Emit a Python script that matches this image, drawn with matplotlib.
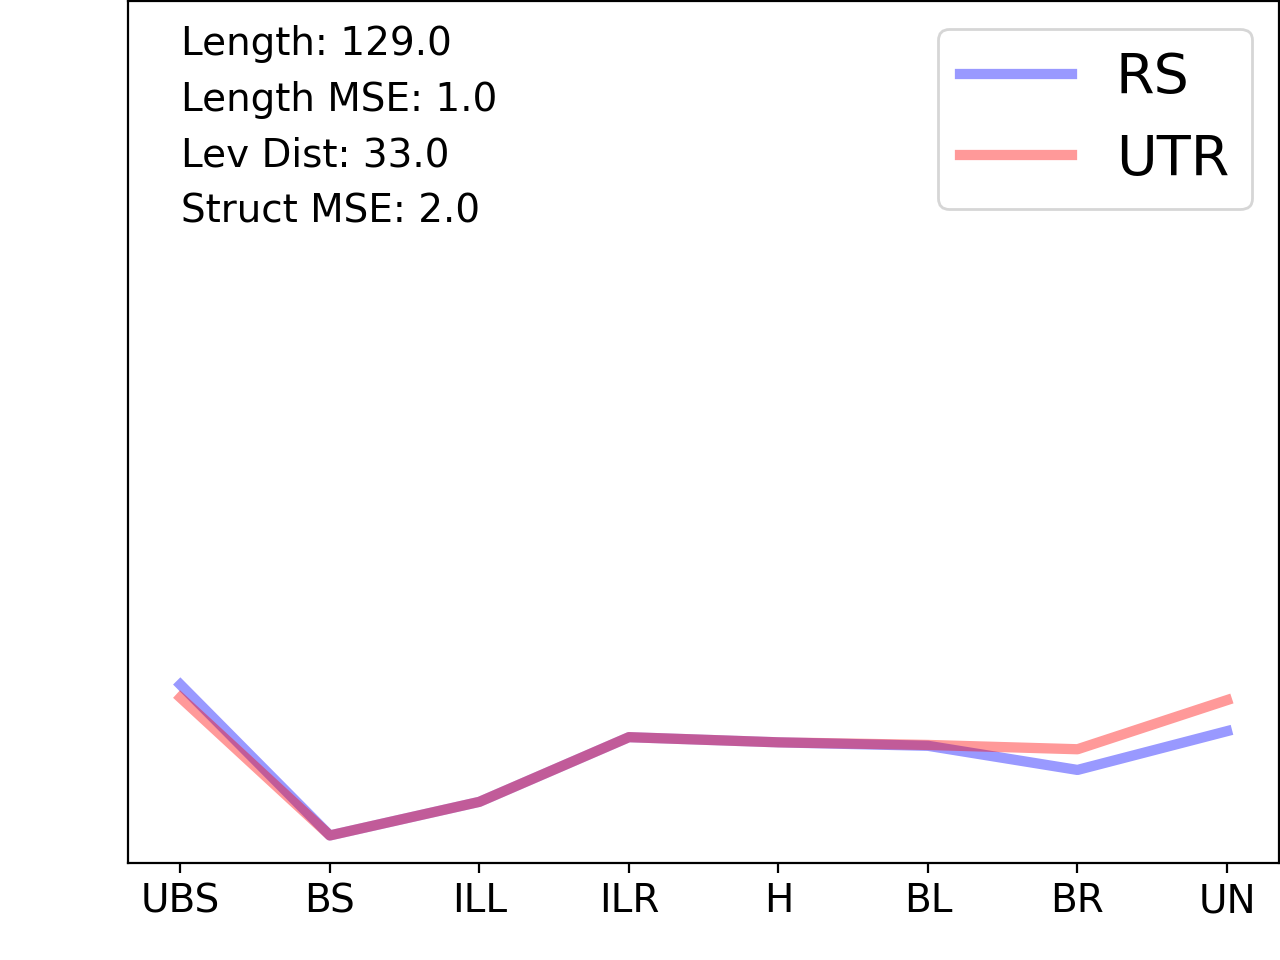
import matplotlib
matplotlib.use('Agg')
import matplotlib.pyplot as plt

labels = ['UBS', 'BS', 'ILL', 'ILR', 'H', 'BL', 'BR', 'UN']
rs_vals = [2.07, 0.32, 0.71, 1.46, 1.40, 1.36, 1.08, 1.53]
utr_vals = [1.92, 0.32, 0.71, 1.46, 1.40, 1.37, 1.32, 1.89]
stats = [('Length', 129.0), ('Length MSE', 1.0), ('Lev Dist', 33.0), ('Struct MSE', 2.0)]

fig = plt.figure(figsize=(6.4, 4.8), dpi=200)
ax = fig.add_axes([0.1, 0.101, 0.8995, 0.898])

x = range(len(labels))
ax.plot(x, rs_vals, color='blue', alpha=0.4, lw=3.7, label='RS')
ax.plot(x, utr_vals, color='red', alpha=0.4, lw=3.7, label='UTR')

ax.set_ylim(0, 10)
ax.set_xticks(list(x))
ax.set_xticklabels(labels, fontsize=14)
ax.set_yticks([])

txt = '\n'.join(f'{k}: {v}' for k, v in stats)
ax.text(0.046, 0.972, txt, transform=ax.transAxes, fontsize=14, va='top', ha='left',
        linespacing=1.59)

ax.legend(loc='upper right', fontsize=20)

fig.savefig('out.png', dpi=200)
